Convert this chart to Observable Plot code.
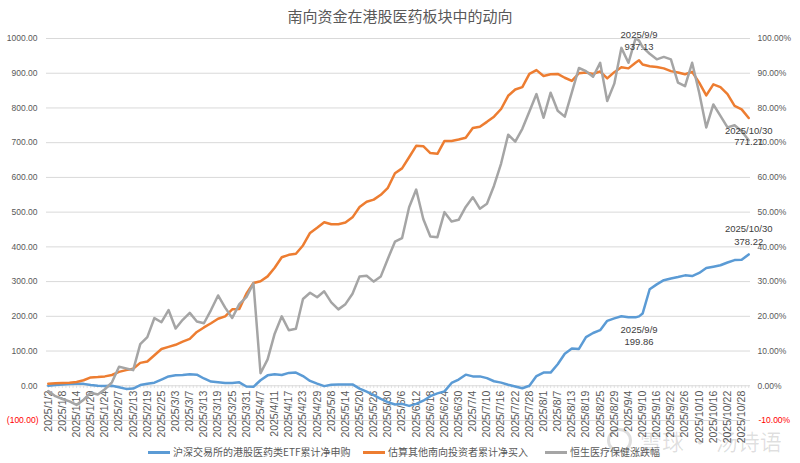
<!DOCTYPE html>
<html><head><meta charset="utf-8">
<script src="https://cdn.jsdelivr.net/npm/d3@7"></script>
<script src="https://cdn.jsdelivr.net/npm/@observablehq/plot@0.6"></script>
<style>
body{margin:0;background:#fff;}
#wrap{position:relative;width:800px;height:463px;overflow:hidden;font-family:"Liberation Sans","Noto Sans CJK SC",sans-serif;}
#title{position:absolute;top:5px;left:0;width:800px;text-align:center;font-size:15px;color:#595959;font-family:"Noto Sans CJK SC",sans-serif;}
.lg{position:absolute;top:444px;height:16px;font-size:10px;line-height:16px;color:#595959;font-family:"Noto Sans CJK SC",sans-serif;white-space:nowrap;}
.lg i{display:inline-block;width:22px;height:2.5px;vertical-align:middle;margin-right:3px;position:relative;top:-1px;}
#wm{position:absolute;left:640px;top:427px;font-size:22px;line-height:26px;color:rgba(0,0,0,0.13);font-family:"Noto Sans CJK SC",sans-serif;white-space:nowrap;}
#wmlogo{position:absolute;left:607px;top:428px;width:25px;height:25px;border:3px solid rgba(0,0,0,0.13);border-radius:50%;box-sizing:border-box;}
</style></head>
<body>
<div id="wrap">
  <div id="chart"></div>
  <div id="title">南向资金在港股医药板块中的动向</div>
  <div id="wmlogo"></div>
  <div id="wm">雪球 · 汤诗语</div>
  <div id="legend"></div>
</div>
<script>
// trading-day categories (month -> days)
const tradingDays = {
  1: [2,3,6,7,8,9,10,13,14,15,16,17,20,21,22,23,24,27],
  2: [5,6,7,10,11,12,13,14,17,18,19,20,21,24,25,26,27,28],
  3: [3,4,5,6,7,10,11,12,13,14,17,18,19,20,21,24,25,26,27,28,31],
  4: [1,2,3,7,8,9,10,11,14,15,16,17,18,21,22,23,24,25,28,29,30],
  5: [6,7,8,9,12,13,14,15,16,19,20,21,22,23,26,27,28,29,30],
  6: [3,4,5,6,9,10,11,12,13,16,17,18,19,20,23,24,25,26,27,30],
  7: [1,2,3,4,7,8,9,10,11,14,15,16,17,18,21,22,23,24,25,28,29,30,31],
  8: [1,4,5,6,7,8,11,12,13,14,15,18,19,20,21,22,25,26,27,28,29],
  9: [1,2,3,4,5,8,9,10,11,12,15,16,17,18,19,22,23,24,25,26,29,30],
  10: [9,10,13,14,15,16,17,20,21,22,23,24,27,28,29,30]
};

// x tick labels
const tickLabels = ["2025/1/2","2025/1/8","2025/1/14","2025/1/20","2025/1/24","2025/2/7","2025/2/13","2025/2/19","2025/2/25","2025/3/3","2025/3/7","2025/3/13","2025/3/19","2025/3/25","2025/3/31","2025/4/7","2025/4/11","2025/4/17","2025/4/23","2025/4/29","2025/5/8","2025/5/14","2025/5/20","2025/5/26","2025/5/30","2025/6/6","2025/6/12","2025/6/18","2025/6/24","2025/6/30","2025/7/4","2025/7/10","2025/7/16","2025/7/22","2025/7/28","2025/8/1","2025/8/7","2025/8/13","2025/8/19","2025/8/25","2025/8/29","2025/9/4","2025/9/10","2025/9/16","2025/9/22","2025/9/26","2025/10/10","2025/10/16","2025/10/22","2025/10/28"];

// dates at which values were read
const sampleDates = ["2025/1/2","2025/1/6","2025/1/8","2025/1/10","2025/1/14","2025/1/16","2025/1/20","2025/1/22","2025/1/24","2025/2/5","2025/2/7","2025/2/11","2025/2/13","2025/2/17","2025/2/19","2025/2/21","2025/2/25","2025/2/27","2025/3/3","2025/3/5","2025/3/7","2025/3/11","2025/3/13","2025/3/17","2025/3/19","2025/3/21","2025/3/25","2025/3/27","2025/3/31","2025/4/2","2025/4/7","2025/4/9","2025/4/11","2025/4/15","2025/4/17","2025/4/21","2025/4/23","2025/4/25","2025/4/29","2025/5/6","2025/5/8","2025/5/12","2025/5/14","2025/5/16","2025/5/20","2025/5/22","2025/5/26","2025/5/28","2025/5/30","2025/6/4","2025/6/6","2025/6/10","2025/6/12","2025/6/16","2025/6/18","2025/6/20","2025/6/24","2025/6/26","2025/6/30","2025/7/2","2025/7/4","2025/7/8","2025/7/10","2025/7/14","2025/7/16","2025/7/18","2025/7/22","2025/7/24","2025/7/28","2025/7/30","2025/8/1","2025/8/5","2025/8/7","2025/8/11","2025/8/13","2025/8/15","2025/8/19","2025/8/21","2025/8/25","2025/8/27","2025/8/29","2025/9/2","2025/9/4","2025/9/8","2025/9/9","2025/9/10","2025/9/12","2025/9/16","2025/9/18","2025/9/22","2025/9/24","2025/9/26","2025/9/30","2025/10/10","2025/10/14","2025/10/16","2025/10/20","2025/10/22","2025/10/24","2025/10/28","2025/10/30"];

// 沪深交易所的港股医药类ETF累计净申购 (left axis)
const etfNet = [0,2,4,5,5.5,5.5,2,0,-1,0,-4,-9,-8,2,6,9,18,27,30,31,33,32,21,12,10,8,8,10,-2,-3,16,30,33,31,37,38,28,14,6,-1,3,4,4,4,-8,-17,-27,-38,-47,-54,-52,-58,-52,-43,-30,-22,-16,8,18,32,27,27,22,13,9,3,-2,-7,0,28,38,38,62,92,107,106,140,152,160,187,194,200,197,197,199.86,208,278,292,304,309,313,318,316,325,339,343,347,355,362,363,378.22];

// 估算其他南向投资者累计净买入 (left axis)
const otherNet = [6,7,8,9,11,16,24,25,27,31,40,45,49,66,70,88,106,112,118,127,135,155,168,180,193,200,220,221,265,296,301,315,340,370,377,380,404,440,455,471,465,465,470,485,515,530,536,550,570,612,626,658,691,690,670,668,705,705,709,714,742,746,760,775,797,835,853,860,898,909,892,897,898,887,878,900,902,898,905,885,903,917,914,930,937.13,925,920,918,914,906,902,897,904,873,836,868,860,840,806,796,771.21];

// 恒生医疗保健涨跌幅, % (right axis)
const hsHealth = [-1.5,-3,-3.8,-4.5,-5.5,-4,-2,-2.5,-1,1,5.5,5,4.5,12,14,19.5,18.3,21.8,16.5,19,21,18.5,18,21.8,26,22.5,19.5,23.5,25.5,29.5,3.6,7.6,15,20,16,16.4,25,26.8,25.5,27.2,24,22,23.5,26.5,31.5,31.7,30,31.5,36.6,41.5,42.5,51.4,56.5,48,43,42.8,50,47.3,47.8,51.5,54.3,51,52.4,57.6,64,72.3,70.3,74,79,84,77.2,84.4,79.2,77.5,84.5,91.5,90.6,89,93,82,87,97.3,93,100,99.4,97.5,95.6,94,94.7,94,87.3,86.3,93,84.4,74.4,81,77.7,74.4,75,73.3,70.7];

const leftTicks = [-100,0,100,200,300,400,500,600,700,800,900,1000];

const seriesNames = ["沪深交易所的港股医药类ETF累计净申购","估算其他南向投资者累计净买入","恒生医疗保健涨跌幅"];
const seriesColors = ["#5b9bd5","#ed7d31","#a5a5a5"];

const allDates = Object.entries(tradingDays).flatMap(([m, ds]) => ds.map(d => `2025/${m}/${d}`));
const rows = arr => sampleDates.map((date, i) => ({date, v: arr[i]}));
const blue = rows(etfNet), orange = rows(otherNet), gray = rows(hsHealth);

const ann = [
  {date: "2025/9/9", v: 937.13, l1: "2025/9/9", l2: "937.13", d1: -25, d2: -13},
  {date: "2025/10/30", v: 771.21, l1: "2025/10/30", l2: "771.21", d1: 13, d2: 24},
  {date: "2025/10/30", v: 378.22, l1: "2025/10/30", l2: "378.22", d1: -25, d2: -12.5},
  {date: "2025/9/9", v: 199.86, l1: "2025/9/9", l2: "199.86", d1: 14, d2: 26}
];

const fmtL = v => v < 0 ? `(${Math.abs(v).toFixed(2)})` : v.toFixed(2);
const fmtR = v => (v / 10).toFixed(2) + "%";
const axisColor = "#595959";

const chart = Plot.plot({
  width: 800, height: 463,
  marginLeft: 46, marginRight: 50, marginTop: 38, marginBottom: 43,
  x: {type: "point", domain: allDates, padding: 0.5, axis: null},
  y: {domain: [-100, 1000], axis: null},
  style: {fontFamily: '"Liberation Sans","Noto Sans CJK SC",sans-serif', background: "transparent"},
  marks: [
    Plot.ruleY(leftTicks, {y: d => d, stroke: "#d9d9d9", strokeWidth: 1}),
    Plot.ruleX(allDates, {x: d => d, y1: () => 0, y2: () => -8, stroke: "#d9d9d9", strokeWidth: 0.8}),
    Plot.text(leftTicks.filter(v => v >= 0), {y: d => d, text: fmtL, frameAnchor: "left", textAnchor: "end", dx: -9, fill: axisColor, fontSize: 8.5}),
    Plot.text(leftTicks.filter(v => v < 0), {y: d => d, text: fmtL, frameAnchor: "left", textAnchor: "end", dx: -8, fill: "#ff0000", fontSize: 8.5}),
    Plot.text(leftTicks.filter(v => v >= 0), {y: d => d, text: fmtR, frameAnchor: "right", textAnchor: "start", dx: 7, fill: axisColor, fontSize: 8.5}),
    Plot.text(leftTicks.filter(v => v < 0), {y: d => d, text: fmtR, frameAnchor: "right", textAnchor: "start", dx: 8, fill: "#ff0000", fontSize: 8.5}),
    Plot.text(tickLabels, {x: d => d, y: () => 0, text: d => d, rotate: -90, textAnchor: "end", dy: 5, fill: axisColor, fontSize: 10.5}),
    Plot.line(blue, {x: "date", y: "v", stroke: seriesColors[0], strokeWidth: 2.5, strokeLinejoin: "round"}),
    Plot.line(orange, {x: "date", y: "v", stroke: seriesColors[1], strokeWidth: 2.5, strokeLinejoin: "round"}),
    Plot.line(gray, {x: "date", y: d => d.v * 10, stroke: seriesColors[2], strokeWidth: 2.5, strokeLinejoin: "round"}),
    ...ann.map(a => Plot.text([a], {x: "date", y: "v", text: "l1", dy: a.d1, fill: "#404040", fontSize: 9.5})),
    ...ann.map(a => Plot.text([a], {x: "date", y: "v", text: "l2", dy: a.d2, fill: "#404040", fontSize: 9.5}))
  ]
});
document.getElementById("chart").appendChild(chart);

const legendX = [148, 363, 545];
const lg = document.getElementById("legend");
seriesNames.forEach((n, i) => {
  const s = document.createElement("div");
  s.className = "lg";
  s.style.left = legendX[i] + "px";
  s.innerHTML = `<i style="background:${seriesColors[i]}"></i>${n}`;
  lg.appendChild(s);
});
</script>
</body></html>
